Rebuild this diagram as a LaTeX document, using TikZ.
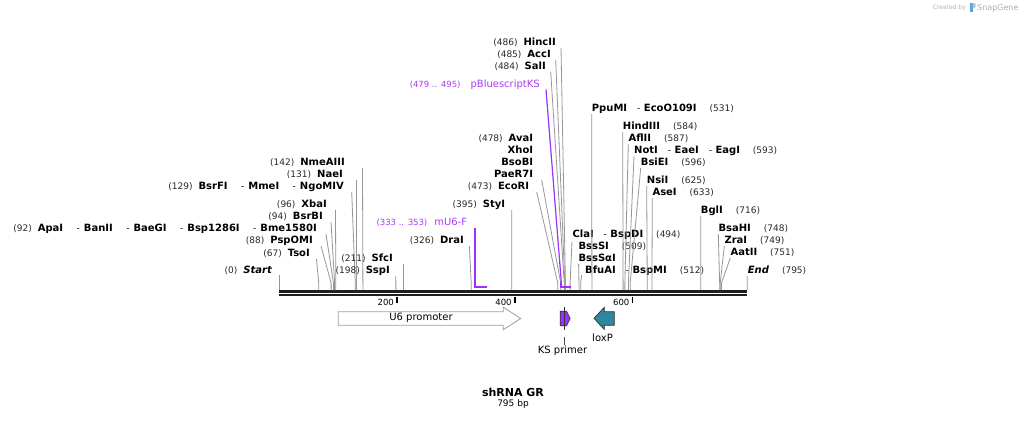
\documentclass[tikz,border=0pt]{standalone}
\usepackage{fontspec}
\setmainfont{DejaVu Sans}
\usetikzlibrary{calc}
\definecolor{cutgray}{RGB}{150,150,150}
\definecolor{numgray}{RGB}{40,40,40}
\definecolor{ppl}{RGB}{155,48,255}
\definecolor{ppltext}{RGB}{170,60,240}
\definecolor{loxc}{RGB}{46,134,160}
\definecolor{seqc}{RGB}{30,30,30}
\definecolor{wm}{RGB}{175,175,175}
\definecolor{wmblue}{RGB}{90,165,225}

\newcommand\nm[1]{{\fontsize{10}{11}\selectfont\bfseries #1}}
\newcommand\nr[1]{{\fontsize{9}{10}\selectfont\color{numgray}#1}}
\newcommand\sepl{{\fontsize{9}{10}\selectfont\hspace{13.5pt}-\hspace{4pt}}}
\newcommand\sepr{{\fontsize{9}{10}\selectfont\hspace{10pt}-\hspace{3.5pt}}}
\newcommand\gl{\hspace{6pt}}
\newcommand\gr{\hspace{13pt}}
\newcommand\sx[1]{279.3+0.5887*#1}

\tikzset{
  lbl/.style={inner sep=0pt, text height=7pt, text depth=0pt},
  cut/.style={draw=cutgray, line width=0.8pt},
  pcut/.style={draw=ppl, line width=1.8pt},
  feat/.style={font=\fontsize{10}{12}\selectfont, inner sep=0pt},
}
% left-hand site label: id, east point, text, line top, bp
\newcommand\lsite[5]{%
  \node[lbl,anchor=east] (#1) at (#2) {#3};
  \coordinate (#1-t) at (#4);
  \coordinate (#1-s) at ({\sx{#5}},290);
  \draw[cut] (#1-t) -- ($(#1-s)+(0,-7)$) -- (#1-s);
}
% right-hand site label: id, west point, text, line top, bp
\newcommand\rsite[5]{%
  \node[lbl,anchor=west] (#1) at (#2) {#3};
  \coordinate (#1-t) at (#4);
  \coordinate (#1-s) at ({\sx{#5}},290);
  \draw[cut] (#1-t) -- ($(#1-s)+(0,-7)$) -- (#1-s);
}

\begin{document}
\begin{tikzpicture}[x=1pt,y=-1pt]
\useasboundingbox[fill=white] (0,0) rectangle (1027,420);

% watermark
\node[anchor=east, inner sep=0pt, text=wm, font=\fontsize{6}{7}\selectfont] (wm1) at (966,8) {Created by};
\fill[wmblue] (969.5,3.5) rectangle (972.5,12.5);
\fill[wmblue!60] (972.5,3.5) -- (975.5,3.5) -- (975.5,7) -- (972.5,9) -- cycle;
\node[anchor=west, inner sep=0pt, text=wm, font=\fontsize{8}{9}\selectfont] (wm2) at (977,8) {SnapGene};

% sequence
\coordinate (s0) at (279.3,291.2);
\coordinate (s1) at (747.3,291.2);
\draw[seqc, line width=2.6pt] (s0) -- (s1);
\draw[seqc, line width=2.4pt] ($(s0)+(0,4)$) -- ($(s1)+(0,4)$);

% ticks
\foreach \p in {200,400,600}{
  \coordinate (t\p) at ({\sx{\p}},296.5);
  \draw[black, line width=1.6pt] (t\p) -- ++(0,6);
  \node[anchor=east, inner sep=0pt, font=\fontsize{8.5}{10}\selectfont] (tl\p) at ($(t\p)+(-3,5.5)$) {\p};
}

% left labels
\lsite{start}{272,270}{\nr{(0)}\gl\nm{\itshape Start}}{279.3,275}{0}
\lsite{tso}{310,253}{\nr{(67)}\gl\nm{TsoI}}{316.5,259}{67}
\lsite{psp}{313,240}{\nr{(88)}\gl\nm{PspOMI}}{321,246}{88}
\lsite{apa}{317,228}{\nr{(92)}\gl\nm{ApaI}\sepl\nm{BanII}\sepl\nm{BaeGI}\sepl\nm{Bsp1286I}\sepl\nm{Bme1580I}}{326,234}{92}
\lsite{bsrb}{323,216}{\nr{(94)}\gl\nm{BsrBI}}{331,222}{94}
\lsite{xba}{327,204}{\nr{(96)}\gl\nm{XbaI}}{335.5,210}{96}
\lsite{bsrf}{344,186}{\nr{(129)}\gl\nm{BsrFI}\sepl\nm{MmeI}\sepl\nm{NgoMIV}}{351.7,192}{129}
\lsite{nae}{343,174}{\nr{(131)}\gl\nm{NaeI}}{356.5,180}{131}
\lsite{nme}{345,162}{\nr{(142)}\gl\nm{NmeAIII}}{362.5,168}{142}
\lsite{ssp}{390,270}{\nr{(198)}\gl\nm{SspI}}{395.8,276}{198}
\lsite{sfc}{393,258}{\nr{(211)}\gl\nm{SfcI}}{403.5,264}{211}
\lsite{dra}{464,240}{\nr{(326)}\gl\nm{DraI}}{469.3,246}{326}
\lsite{sty}{505.3,204}{\nr{(395)}\gl\nm{StyI}}{511.8,210}{395}
\lsite{eco}{529.3,186}{\nr{(473)}\gl\nm{EcoRI}}{536.7,192}{473}
\node[lbl,anchor=east] (ava) at (533.3,138) {\nr{(478)}\gl\nm{AvaI}};
\node[lbl,anchor=east] (xho) at (533.3,150) {\nm{XhoI}};
\node[lbl,anchor=east] (bsob) at (533.3,162) {\nm{BsoBI}};
\lsite{pae}{533.3,174}{\nm{PaeR7I}}{541.7,180}{478}
\lsite{sal}{546,66}{\nr{(484)}\gl\nm{SalI}}{550.7,72}{484}
\lsite{acc}{551,54}{\nr{(485)}\gl\nm{AccI}}{555.7,60}{485}
\lsite{hinc}{556,42}{\nr{(486)}\gl\nm{HincII}}{561,48}{486}

% right labels
\rsite{cla}{572.3,234}{\nm{ClaI}\sepr\nm{BspDI}\gr\nr{(494)}}{572,241.5}{494}
\node[lbl,anchor=west] (bsss) at (578.3,246) {\nm{BssSI}\gr\nr{(509)}};
\rsite{bssa}{578.3,258}{\nm{BssSαI}}{578.6,264}{509}
\rsite{bfua}{585,270}{\nm{BfuAI}\sepr\nm{BspMI}\gr\nr{(512)}}{581.7,275}{512}
\rsite{ppu}{591.7,108}{\nm{PpuMI}\sepr\nm{EcoO109I}\gr\nr{(531)}}{591.7,114}{531}
\rsite{hind}{622.7,126}{\nm{HindIII}\gr\nr{(584)}}{622.7,132}{584}
\rsite{afl}{628.3,138}{\nm{AflII}\gr\nr{(587)}}{628.3,144}{587}
\rsite{not}{634,150}{\nm{NotI}\sepr\nm{EaeI}\sepr\nm{EagI}\gr\nr{(593)}}{634,156}{593}
\rsite{bsie}{640.7,162}{\nm{BsiEI}\gr\nr{(596)}}{640.7,168}{596}
\rsite{nsi}{646.7,180}{\nm{NsiI}\gr\nr{(625)}}{646.7,186}{625}
\rsite{ase}{652.3,192}{\nm{AseI}\gr\nr{(633)}}{652.3,198}{633}
\rsite{bgl}{700.7,210}{\nm{BglI}\gr\nr{(716)}}{700.7,216}{716}
\rsite{bsah}{718.3,228}{\nm{BsaHI}\gr\nr{(748)}}{718.3,234}{748}
\rsite{zra}{724.3,240}{\nm{ZraI}\gr\nr{(749)}}{724.3,246}{749}
\rsite{aat}{730.3,252}{\nm{AatII}\gr\nr{(751)}}{730.3,258}{751}
\rsite{end}{747.7,270}{\nm{\itshape End}\gr\nr{(795)}}{747.3,276}{795}

% primer binding sites (purple)
\node[lbl,anchor=east,text=ppltext] (mu6) at (467.3,222)
  {{\fontsize{8.5}{10}\selectfont(333 .. 353)}\hspace{7pt}{\fontsize{10}{12}\selectfont mU6-F}};
\coordinate (mu6-t) at (474.7,228);
\coordinate (mu6-a) at ({\sx{333}},287);
\coordinate (mu6-b) at ({\sx{353}},287);
\draw[pcut] (mu6-t) -- (mu6-t |- mu6-a) -- (mu6-b);

\node[lbl,anchor=east,text=ppltext] (pbs) at (540,84)
  {{\fontsize{8.5}{10}\selectfont(479 .. 495)}\hspace{10pt}{\fontsize{10}{12}\selectfont pBluescriptKS}};
\coordinate (pbs-t) at (546,89.5);
\coordinate (pbs-a) at ({\sx{479}},287);
\coordinate (pbs-b) at ({\sx{495}},287);
\draw[draw=ppl, line width=1.2pt] (pbs-t) -- ($(pbs-a)+(0,-5)$);
\draw[pcut] ($(pbs-a)+(0,-5)$) -- (pbs-a) -- (pbs-b);

% features
\draw[draw=gray!75, fill=white, line width=0.8pt]
  (338.3,311.7) -- (503.3,311.7) -- (503.3,307.3) -- (520.7,318.5)
  -- (503.3,329.7) -- (503.3,325.3) -- (338.3,325.3) -- cycle;
\node[feat] (u6) at (421,318) {U6 promoter};

\coordinate (ks-c) at (564.8,318.5);
\draw[fill=ppl, draw=black!80, line width=0.7pt]
  (560.2,311.2) -- (566.5,311.2) -- (570.2,318.5) -- (566.5,325.8) -- (560.2,325.8) -- cycle;
\draw[black!80, line width=0.8pt] (564.8,307) -- (564.8,330);
\coordinate (ks-l) at (564.3,337);
\draw[black!70, line width=0.7pt] (ks-l) -- ++(0,8);
\node[feat] (ksp) at (562.5,350.5) {KS primer};

\draw[fill=loxc, draw=black!80, line width=0.7pt]
  (594,318.3) -- (604.3,307.2) -- (604.3,311.7) -- (614.3,311.7)
  -- (614.3,325.3) -- (604.3,325.3) -- (604.3,329.5) -- cycle;
\node[feat] (lox) at (602.5,337.5) {loxP};

% title
\node[inner sep=0pt, font=\fontsize{11}{12}\selectfont\bfseries] (title) at (513,392) {shRNA GR};
\node[inner sep=0pt, font=\fontsize{9}{11}\selectfont] (len) at (513,404.5) {795 bp};
\end{tikzpicture}
\end{document}
